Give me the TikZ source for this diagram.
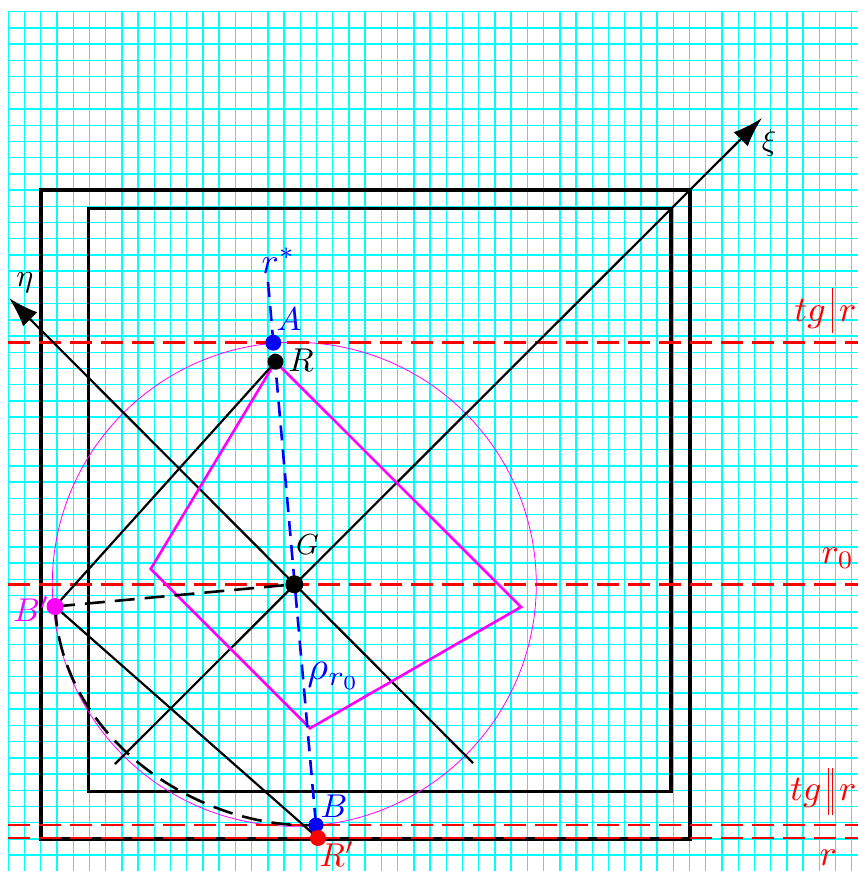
\documentclass[tikz,border=0pt]{standalone}
\usepackage{amsmath}
\usetikzlibrary{arrows.meta}
\definecolor{gcyan}{RGB}{0,255,255}
\definecolor{mag}{RGB}{255,0,255}
\definecolor{rred}{RGB}{255,0,0}
\definecolor{bblue}{RGB}{0,0,255}
\begin{document}
\begin{tikzpicture}[x=1pt,y=-1pt,
  gridline/.style={gcyan, line width=1.4pt},
  frame/.style={black, line width=3.8pt},
  axis/.style={black, line width=2.2pt, -{Latex[length=30pt,width=20pt]}},
  seg/.style={black, line width=2.2pt},
  reddash/.style={rred, line width=2.6pt, dash pattern=on 22pt off 9pt},
  bluedash/.style={bblue, line width=2.6pt, dash pattern=on 15pt off 9pt},
  blackdash/.style={black, line width=2.6pt, dash pattern=on 20pt off 10pt},
  quad/.style={mag, line width=2.6pt},
  circ/.style={mag, line width=0.8pt},
  dot/.style={circle, inner sep=0pt, minimum size=16pt},
  lbl/.style={scale=3.3, inner sep=0pt},
  redlbl/.style={scale=3.6, inner sep=0pt, text=rred},
  smalllbl/.style={scale=2.9, inner sep=0pt}]
\useasboundingbox (0,0) rectangle (858,871);
\clip (0,0) rectangle (858,871);
% grid
\foreach \i in {0,...,52} \draw[gridline] ({8.33+16.22*\i},11.67) -- ({8.33+16.22*\i},872);
\foreach \j in {0,...,53} \draw[gridline] (8.33,{11.67+16.22*\j}) -- (860,{11.67+16.22*\j});
% frames
\draw[frame] (40.77,190.1) rectangle (689.6,838.9);
\draw[frame] (88.5,208.5) rectangle (671,791.5);
% points
\coordinate (G) at (294.3,584.3);
\coordinate (A) at (273.3,342.7);
\coordinate (R) at (275.5,361.7);
\coordinate (B) at (316,825);
\coordinate (Rp) at (318,838);
\coordinate (Bp) at (55,606.5);
\coordinate (Q1) at (150.7,569);
\coordinate (Q2) at (310,728.3);
\coordinate (Q3) at (521,607);
\coordinate (Xs) at (115,764);
\coordinate (Xt) at (762,118);
\coordinate (Es) at (473,763);
\coordinate (Et) at (9,298);
\coordinate (rs) at (268,282);
\coordinate (L1) at (8.33,342.7); \coordinate (R1) at (870,342.7);
\coordinate (L2) at (8.33,584.3); \coordinate (R2) at (870,584.3);
\coordinate (L3) at (8.33,825);   \coordinate (R3) at (870,825);
\coordinate (L4) at (8.33,838);   \coordinate (R4) at (870,838);
% circle
\draw[circ] (G) circle (242);
% red dashed lines
\draw[reddash] (L1) -- (R1);
\draw[reddash] (L2) -- (R2);
\draw[reddash] (L3) -- (R3);
\draw[reddash] (L4) -- (R4);
% axes
\draw[axis] (Xs) -- (Xt);
\draw[axis] (Es) -- (Et);
% magenta quadrilateral
\draw[quad, line join=miter] (R) -- (Q1) -- (Q2) -- (Q3) -- cycle;
% black triangle
\draw[seg] (R) -- (Bp) -- (Rp);
% dashed black
\draw[blackdash] (Bp) -- (G);
\draw[blackdash] (Bp) .. controls (62,740) and (200,830) .. (B);
% blue dashed r*
\draw[bluedash] (rs) -- (B);
% dots
\node[dot, fill=black, minimum size=18pt] (nG) at (G) {};
\node[dot, fill=bblue] (nA) at (A) {};
\node[dot, fill=black] (nR) at (R) {};
\node[dot, fill=mag, minimum size=17pt] (nBp) at (Bp) {};
\node[dot, fill=bblue, minimum size=15pt] (nB) at (B) {};
\node[dot, fill=rred] (nRp) at (Rp) {};
% labels
\node[lbl, text=bblue] (lA) at (289,319) {$A$};
\node[lbl] (lR) at (301,360) {$R$};
\node[smalllbl] (lG) at (307.5,544.5) {$G$};
\node[lbl, text=bblue] (lB) at (334,806) {$B$};
\node[lbl, text=mag, anchor=east] (lBp) at (50,609) {$B'$};
\node[lbl, text=rred] (lRp) at (337,854) {$R'$};
\node[scale=3.6, inner sep=0pt, text=bblue, anchor=base west] (lrs) at (261,273) {$r^{*}$};
\node[scale=4.0, inner sep=0pt, text=bblue] (lrho) at (334,676) {$\rho_{r_0}$};
\node[scale=3.0, inner sep=0pt] (lxi) at (769,143) {$\xi$};
\node[scale=3.2, inner sep=0pt] (leta) at (25,283) {$\eta$};
\node[redlbl, anchor=base east] (ltg1) at (857,321) {$tg\,\rule[-3.4pt]{0.35pt}{12.5pt}\,r$};
\node[redlbl, anchor=base east] (ltg2) at (857,800) {$tg\,\rule[-4.2pt]{0.35pt}{13pt}\hspace{0.8pt}\rule[-4.2pt]{0.35pt}{13pt}\,r$};
\node[redlbl, anchor=base west] (lr0) at (821,563) {$r_0$};
\node[redlbl, anchor=base west] (lr) at (819,865) {$r$};
\end{tikzpicture}
\end{document}
